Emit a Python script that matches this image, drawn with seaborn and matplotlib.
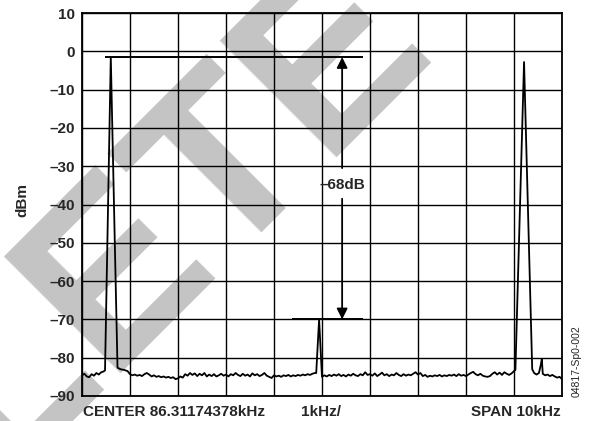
import numpy as np
import pandas as pd
import seaborn as sns
import matplotlib.pyplot as plt

# spectrum trace, offset from center (kHz) and level (dBm)
freq_khz = [-5.00, -4.95, -4.90, -4.85, -4.80, -4.75, -4.70, -4.65, -4.60, -4.55,
            -4.52, -4.40, -4.26, -4.20, -4.12, -4.05, -4.00,
            -3.95, -3.90, -3.85, -3.80, -3.75, -3.70, -3.65, -3.60, -3.55, -3.50,
            -3.45, -3.40, -3.35, -3.30, -3.25, -3.20, -3.15, -3.10, -3.05, -3.00,
            -2.95, -2.90, -2.85, -2.80, -2.75, -2.70, -2.65, -2.60, -2.55, -2.50,
            -2.45, -2.40, -2.35, -2.30, -2.25, -2.20, -2.15, -2.10, -2.05, -2.00,
            -1.95, -1.90, -1.85, -1.80, -1.75, -1.70, -1.65, -1.60, -1.55, -1.50,
            -1.45, -1.40, -1.35, -1.30, -1.25, -1.20, -1.15, -1.10, -1.05, -1.00,
            -0.95, -0.90, -0.85, -0.80, -0.75, -0.70, -0.65, -0.60, -0.55, -0.50,
            -0.45, -0.40, -0.35, -0.30, -0.25, -0.20, -0.15,
            -0.12, -0.06, 0.00,
            0.05, 0.10, 0.15, 0.20, 0.25, 0.30, 0.35, 0.40, 0.45, 0.50,
            0.55, 0.60, 0.65, 0.70, 0.75, 0.80, 0.85, 0.90, 0.95, 1.00,
            1.05, 1.10, 1.15, 1.20, 1.25, 1.30, 1.35, 1.40, 1.45, 1.50,
            1.55, 1.60, 1.65, 1.70, 1.75, 1.80, 1.85, 1.90, 1.95, 2.00,
            2.05, 2.10, 2.15, 2.20, 2.25, 2.30, 2.35, 2.40, 2.45, 2.50,
            2.55, 2.60, 2.65, 2.70, 2.75, 2.80, 2.85, 2.90, 2.95, 3.00,
            3.05, 3.10, 3.15, 3.20, 3.25, 3.30, 3.35, 3.40, 3.45, 3.50,
            3.55, 3.60, 3.65, 3.70, 3.75, 3.80, 3.85, 3.90, 3.95, 4.00,
            4.03, 4.21, 4.38, 4.42, 4.47, 4.52, 4.56, 4.58, 4.60, 4.65,
            4.70, 4.75, 4.80, 4.85, 4.90, 4.95, 5.00]
level_dbm = [-84.6, -84.2, -84.9, -85.1, -84.3, -84.7, -84.0, -84.4, -83.8, -83.6,
             -83.3, -1.5, -82.6, -83.0, -83.2, -83.5, -84.3,
             -84.6, -84.4, -84.7, -84.5, -84.8, -84.3, -84.0, -84.4, -84.9, -84.6,
             -85.0, -84.8, -85.1, -84.9, -85.2, -85.0, -85.3, -85.1, -85.6, -85.4,
             -84.9, -85.2, -84.3, -84.7, -84.0, -84.5, -84.1, -84.8, -84.2, -84.6,
             -84.0, -84.9, -84.4, -84.8, -84.3, -84.9, -84.6, -84.2, -84.7, -84.4,
             -84.9, -84.3, -84.6, -84.0, -84.5, -84.8, -84.2, -84.7, -84.4, -84.9,
             -84.1, -84.6, -84.3, -84.8, -84.5, -84.0, -84.7, -85.0, -85.3, -84.6,
             -84.9, -84.7, -85.0, -84.6, -84.8, -84.5, -84.9, -84.6, -84.8, -84.5,
             -84.7, -84.4, -84.6, -84.3, -84.5, -84.2, -84.0,
             -84.0, -70.0, -85.0,
             -84.6, -84.9, -84.5, -84.8, -84.4, -84.7, -84.3, -84.8, -84.5, -84.9,
             -84.4, -84.7, -84.2, -84.6, -84.8, -84.3, -84.6, -83.8, -84.5, -84.3,
             -84.7, -84.1, -84.8, -84.4, -83.9, -84.6, -84.3, -84.8, -84.4, -84.6,
             -84.0, -84.5, -84.8, -84.3, -84.7, -84.4, -84.6, -84.2, -83.8, -84.4,
             -84.0, -84.8, -84.5, -85.0, -84.7, -84.9, -84.6, -84.8, -84.5, -84.9,
             -84.6, -84.8, -84.5, -84.7, -84.4, -84.8, -84.3, -84.7, -84.5, -84.8,
             -84.4, -84.0, -83.7, -84.3, -84.6, -84.2, -84.7, -84.9, -85.0, -84.8,
             -84.2, -83.8, -84.4, -83.9, -84.5, -83.8, -84.2, -84.5, -84.1, -83.5,
             -83.2, -2.8, -83.0, -84.0, -84.4, -84.0, -81.8, -80.3, -84.2, -84.6,
             -84.4, -84.8, -84.5, -84.9, -85.2, -85.0, -85.6]

y_ticks = [10, 0, -10, -20, -30, -40, -50, -60, -70, -80, -90]
carrier_dbm = -1.5
spur_dbm = -70
marker_text = '\u201368dB'

sns.set_theme(style='white')
plt.rcParams['font.family'] = ['Liberation Sans', 'DejaVu Sans']
plt.rcParams['font.weight'] = 'bold'

fig = plt.figure(figsize=(5.89, 4.21), dpi=100)
ax = fig.add_axes([0.1392, 0.0594, 0.8149, 0.9097])
ax.set_facecolor('none')

# watermark behind everything
fig.text(0.74, 0.885, 'OBSOLETE', rotation=45, rotation_mode='anchor',
         ha='right', va='baseline', fontsize=172, fontweight='bold',
         color='#c4c4c4', zorder=-1)

df = pd.DataFrame({'kHz': freq_khz, 'dBm': level_dbm})
sns.lineplot(data=df, x='kHz', y='dBm', ax=ax, color='black', lw=1.3,
             sort=False, estimator=None)

ax.set_xlim(-5, 5)
ax.set_ylim(-90, 10)
ax.set_xticks(np.arange(-5, 5.5, 1))
ax.set_xticklabels([])
ax.set_yticks(y_ticks)
ax.set_yticklabels([str(v).replace('-', '\u2013') for v in y_ticks])
ax.grid(True, color='black', lw=1.0)
ax.tick_params(length=0, pad=5, labelsize=11)
for s in ax.spines.values():
    s.set_color('black')
    s.set_linewidth(1.3)
ax.set_xlabel('')
ax.set_ylabel('')

# level markers
ax.hlines(carrier_dbm, -4.52, 0.85, color='black', lw=1.4)
ax.hlines(spur_dbm, -0.62, 0.85, color='black', lw=1.4)
ax.annotate('', xy=(0.42, carrier_dbm), xytext=(0.42, -30.5),
            arrowprops=dict(arrowstyle='-|>', color='black', lw=1.3,
                            mutation_scale=16, shrinkA=0, shrinkB=0))
ax.annotate('', xy=(0.42, spur_dbm), xytext=(0.42, -38.5),
            arrowprops=dict(arrowstyle='-|>', color='black', lw=1.3,
                            mutation_scale=16, shrinkA=0, shrinkB=0))
ax.text(0.42, -35, marker_text, ha='center', va='center', fontsize=11)

fig.text(22 / 589, 221 / 421, 'dBm', rotation=90, ha='center', va='center', fontsize=11)
fig.text(83 / 589, 9 / 421, 'CENTER 86.31174378kHz', ha='left', va='center', fontsize=11)
fig.text(321 / 589, 9 / 421, '1kHz/', ha='center', va='center', fontsize=11)
fig.text(561 / 589, 9 / 421, 'SPAN 10kHz', ha='right', va='center', fontsize=11)
fig.text(577 / 589, 60 / 421, '04817-Sp0-002', rotation=90, ha='center', va='center',
         fontsize=7.5, fontweight='normal')

fig.savefig('out.png', dpi=100)
